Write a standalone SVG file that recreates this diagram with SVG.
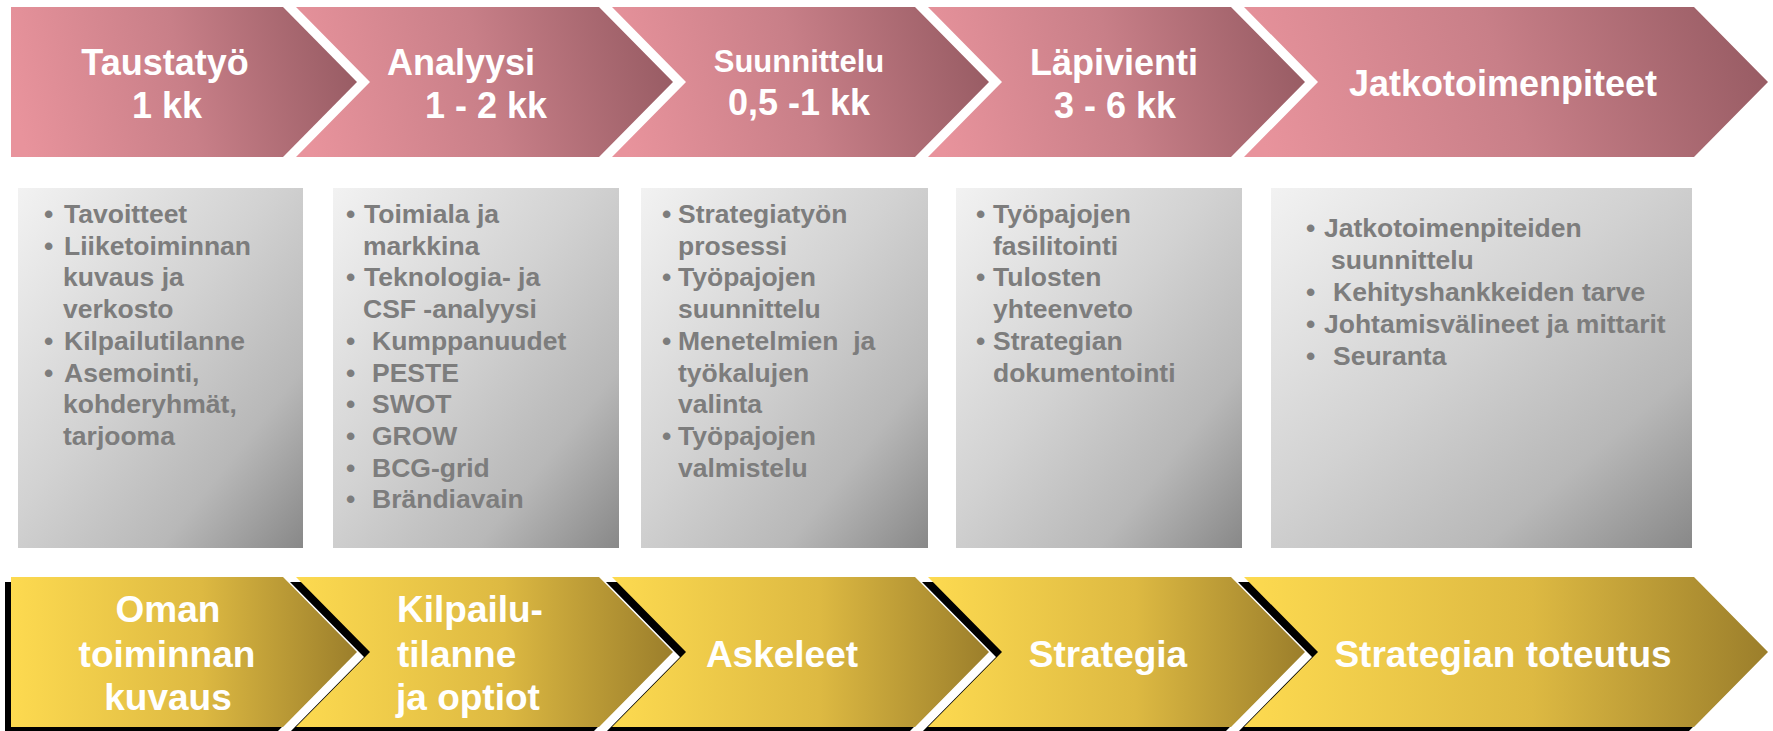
<svg xmlns="http://www.w3.org/2000/svg" width="1773" height="731" viewBox="0 0 1773 731">
<defs>
<linearGradient id="pink" x1="0" y1="0.55" x2="1" y2="0.45">
<stop offset="0" stop-color="#e8939c"/>
<stop offset="0.5" stop-color="#c87f88"/>
<stop offset="1" stop-color="#985c64"/>
</linearGradient>
<linearGradient id="gold" x1="0" y1="0" x2="1" y2="0">
<stop offset="0" stop-color="#fdda50"/>
<stop offset="0.55" stop-color="#ddb942"/>
<stop offset="1" stop-color="#9b7e2b"/>
</linearGradient>
<linearGradient id="grey" x1="0" y1="0" x2="1" y2="1">
<stop offset="0" stop-color="#f2f2f2"/>
<stop offset="0.45" stop-color="#d2d2d2"/>
<stop offset="0.75" stop-color="#b8b8b8"/>
<stop offset="1" stop-color="#888888"/>
</linearGradient>
<style>
.top{fill:url(#pink)}
.bot{fill:url(#gold)}
.sh{fill:#000}
.box{fill:url(#grey)}
.hd{font-family:"Liberation Sans",Arial,sans-serif;font-weight:bold;font-size:36px;fill:#fff}
.hd2{font-family:"Liberation Sans",Arial,sans-serif;font-weight:bold;font-size:37px;fill:#fff}
.m{text-anchor:middle}
.bt{font-family:"Liberation Sans",Arial,sans-serif;font-weight:bold;font-size:26.5px;fill:#7d7d7d}
</style>
</defs>
<rect width="1773" height="731" fill="#fff"/>

<g id="phase-taustatyo">
<polygon class="top" points="11,7 283,7 357,82 283,157 11,157"/>
<text class="hd m" x="165" y="75">Taustatyö</text>
<text class="hd m" x="167" y="118">1 kk</text>
</g>
<g id="phase-analyysi">
<polygon class="top" points="296,7 599,7 673,82 599,157 296,157 370,82"/>
<text class="hd m" x="461" y="75">Analyysi</text>
<text class="hd m" x="486" y="118">1 - 2 kk</text>
</g>
<g id="phase-suunnittelu">
<polygon class="top" points="612,7 915,7 989,82 915,157 612,157 686,82"/>
<text class="hd m" x="799" y="72" style="font-size:31px">Suunnittelu</text>
<text class="hd m" x="799" y="115">0,5 -1 kk</text>
</g>
<g id="phase-lapivienti">
<polygon class="top" points="928,7 1231,7 1305,82 1231,157 928,157 1002,82"/>
<text class="hd m" x="1114" y="75">Läpivienti</text>
<text class="hd m" x="1115" y="118">3 - 6 kk</text>
</g>
<g id="phase-jatko">
<polygon class="top" points="1244,7 1694,7 1768,82 1694,157 1244,157 1318,82"/>
<text class="hd m" x="1503" y="96">Jatkotoimenpiteet</text>
</g>

<g id="box-taustatyo">
<rect class="box" x="18" y="188" width="285" height="360"/>
<text class="bt" x="44" y="223">•</text><text class="bt" x="64" y="223">Tavoitteet</text>
<text class="bt" x="44" y="254.7">•</text><text class="bt" x="64" y="254.7">Liiketoiminnan</text>
<text class="bt" x="63" y="286.4">kuvaus ja</text>
<text class="bt" x="63" y="318">verkosto</text>
<text class="bt" x="44" y="349.8">•</text><text class="bt" x="64" y="349.8">Kilpailutilanne</text>
<text class="bt" x="44" y="381.5">•</text><text class="bt" x="64" y="381.5">Asemointi,</text>
<text class="bt" x="63" y="413">kohderyhmät,</text>
<text class="bt" x="63" y="445">tarjooma</text>
</g>
<g id="box-analyysi">
<rect class="box" x="333" y="188" width="286" height="360"/>
<text class="bt" x="346" y="223">•</text><text class="bt" x="364" y="223">Toimiala ja</text>
<text class="bt" x="363" y="254.7">markkina</text>
<text class="bt" x="346" y="286.4">•</text><text class="bt" x="364" y="286.4">Teknologia- ja</text>
<text class="bt" x="363" y="318">CSF -analyysi</text>
<text class="bt" x="346" y="349.8">•</text><text class="bt" x="372" y="349.8">Kumppanuudet</text>
<text class="bt" x="346" y="381.5">•</text><text class="bt" x="372" y="381.5">PESTE</text>
<text class="bt" x="346" y="413">•</text><text class="bt" x="372" y="413">SWOT</text>
<text class="bt" x="346" y="445">•</text><text class="bt" x="372" y="445">GROW</text>
<text class="bt" x="346" y="476.6">•</text><text class="bt" x="372" y="476.6">BCG-grid</text>
<text class="bt" x="346" y="508.3">•</text><text class="bt" x="372" y="508.3">Brändiavain</text>
</g>
<g id="box-suunnittelu">
<rect class="box" x="641" y="188" width="287" height="360"/>
<text class="bt" x="662" y="223">•</text><text class="bt" x="678" y="223">Strategiatyön</text>
<text class="bt" x="678" y="254.7">prosessi</text>
<text class="bt" x="662" y="286.4">•</text><text class="bt" x="678" y="286.4">Työpajojen</text>
<text class="bt" x="678" y="318">suunnittelu</text>
<text class="bt" x="662" y="349.8">•</text><text class="bt" x="678" y="349.8" xml:space="preserve">Menetelmien  ja</text>
<text class="bt" x="678" y="381.5">työkalujen</text>
<text class="bt" x="678" y="413">valinta</text>
<text class="bt" x="662" y="445">•</text><text class="bt" x="678" y="445">Työpajojen</text>
<text class="bt" x="678" y="476.6">valmistelu</text>
</g>
<g id="box-lapivienti">
<rect class="box" x="956" y="188" width="286" height="360"/>
<text class="bt" x="976" y="223">•</text><text class="bt" x="993" y="223">Työpajojen</text>
<text class="bt" x="993" y="254.7">fasilitointi</text>
<text class="bt" x="976" y="286.4">•</text><text class="bt" x="993" y="286.4">Tulosten</text>
<text class="bt" x="993" y="318">yhteenveto</text>
<text class="bt" x="976" y="349.8">•</text><text class="bt" x="993" y="349.8">Strategian</text>
<text class="bt" x="993" y="381.5">dokumentointi</text>
</g>
<g id="box-jatko">
<rect class="box" x="1271" y="188" width="421" height="360"/>
<text class="bt" x="1306" y="237">•</text><text class="bt" x="1324" y="237">Jatkotoimenpiteiden</text>
<text class="bt" x="1331" y="269">suunnittelu</text>
<text class="bt" x="1306" y="301">•</text><text class="bt" x="1333" y="301">Kehityshankkeiden tarve</text>
<text class="bt" x="1306" y="333">•</text><text class="bt" x="1324" y="333">Johtamisvälineet ja mittarit</text>
<text class="bt" x="1306" y="365">•</text><text class="bt" x="1333" y="365">Seuranta</text>
</g>

<g id="result-oman">
<polygon class="sh" points="5,582 277,582 351,657 277,732 5,732"/>
<polygon class="bot" points="11,577 283,577 357,652 283,727 11,727"/>
<text class="hd2 m" x="168" y="622">Oman</text>
<text class="hd2 m" x="167" y="667">toiminnan</text>
<text class="hd2 m" x="168" y="710">kuvaus</text>
</g>
<g id="result-kilpailu">
<polygon class="sh" points="290,582 593,582 667,657 593,732 290,732 364,657"/>
<polygon class="bot" points="296,577 599,577 673,652 599,727 296,727 370,652"/>
<text class="hd2" x="397" y="622">Kilpailu-</text>
<text class="hd2" x="397" y="667">tilanne</text>
<text class="hd2" x="396" y="710">ja optiot</text>
</g>
<g id="result-askeleet">
<polygon class="sh" points="606,582 909,582 983,657 909,732 606,732 680,657"/>
<polygon class="bot" points="612,577 915,577 989,652 915,727 612,727 686,652"/>
<text class="hd2 m" x="782" y="667">Askeleet</text>
</g>
<g id="result-strategia">
<polygon class="sh" points="922,582 1225,582 1299,657 1225,732 922,732 996,657"/>
<polygon class="bot" points="928,577 1231,577 1305,652 1231,727 928,727 1002,652"/>
<text class="hd2 m" x="1108" y="667">Strategia</text>
</g>
<g id="result-toteutus">
<polygon class="sh" points="1238,582 1688,582 1762,657 1688,732 1238,732 1312,657"/>
<polygon class="bot" points="1244,577 1694,577 1768,652 1694,727 1244,727 1318,652"/>
<text class="hd2 m" x="1503" y="667">Strategian toteutus</text>
</g>

<g id="connectors"/>
</svg>
